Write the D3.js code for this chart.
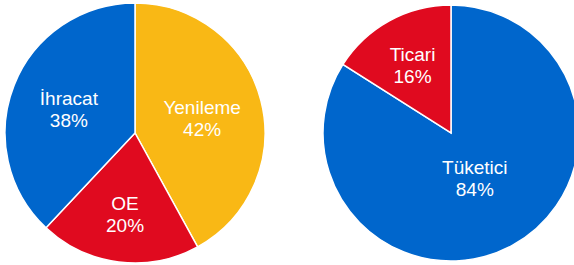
<!DOCTYPE html>
<html>
<head>
<meta charset="utf-8">
<script src="https://cdn.jsdelivr.net/npm/d3@7"></script>
<style>
	body { margin: 0; background: #fff; }
	svg text { font-family: "Liberation Sans", Arial, sans-serif; fill: #fff; }
</style>
</head>
<body>
<div class="pies"></div>
<script>
(function() {

	// left pie: sales channels
	const leftLabels = ["Yenileme", "OE", "İhracat"];
	const leftValues = [42, 20, 38];
	const leftColors = ["#F9B815", "#E00A1F", "#0066CC"];

	// right pie: customer type
	const rightLabels = ["Tüketici", "Ticari"];
	const rightValues = [84, 16];
	const rightColors = ["#0066CC", "#E00A1F"];

	const width = 574,
		height = 265;

	const svg = d3.select(".pies").append("svg")
		.attr("width", width)
		.attr("height", height);

	function renderPie(labels, values, colors, cx, cy, radius) {
		const data = labels.map((l, i) => ({label: l, value: values[i], color: colors[i]}));

		const pie = d3.pie()
			.sort(null)
			.value(d => d.value);

		const arc = d3.arc()
			.innerRadius(0)
			.outerRadius(radius);

		const total = d3.sum(values);

		// smaller slices push their label further out, as the source does
		function labelPos(d) {
			const share = d.data.value / total;
			const r = radius * (0.68 - 0.35 * share);
			return d3.arc().innerRadius(r).outerRadius(r).centroid(d);
		}

		const g = svg.append("g")
			.attr("transform", `translate(${cx},${cy})`);

		const slices = g.selectAll(".arc")
			.data(pie(data))
			.enter().append("g")
			.attr("class", "arc");

		slices.append("path")
			.attr("d", arc)
			.style("fill", d => d.data.color)
			.style("stroke", "#fff")
			.style("stroke-width", 1.5);

		const text = slices.append("text")
			.attr("transform", d => `translate(${labelPos(d)})`)
			.style("text-anchor", "middle")
			.style("font-size", "19px");

		text.append("tspan")
			.attr("x", 0)
			.attr("dy", "-0.1em")
			.text(d => d.data.label);

		text.append("tspan")
			.attr("x", 0)
			.attr("dy", "1.15em")
			.text(d => d.data.value + "%");
	}

	renderPie(leftLabels, leftValues, leftColors, 135, 133, 130);
	renderPie(rightLabels, rightValues, rightColors, 451, 133, 128);

})();
</script>
</body>
</html>
